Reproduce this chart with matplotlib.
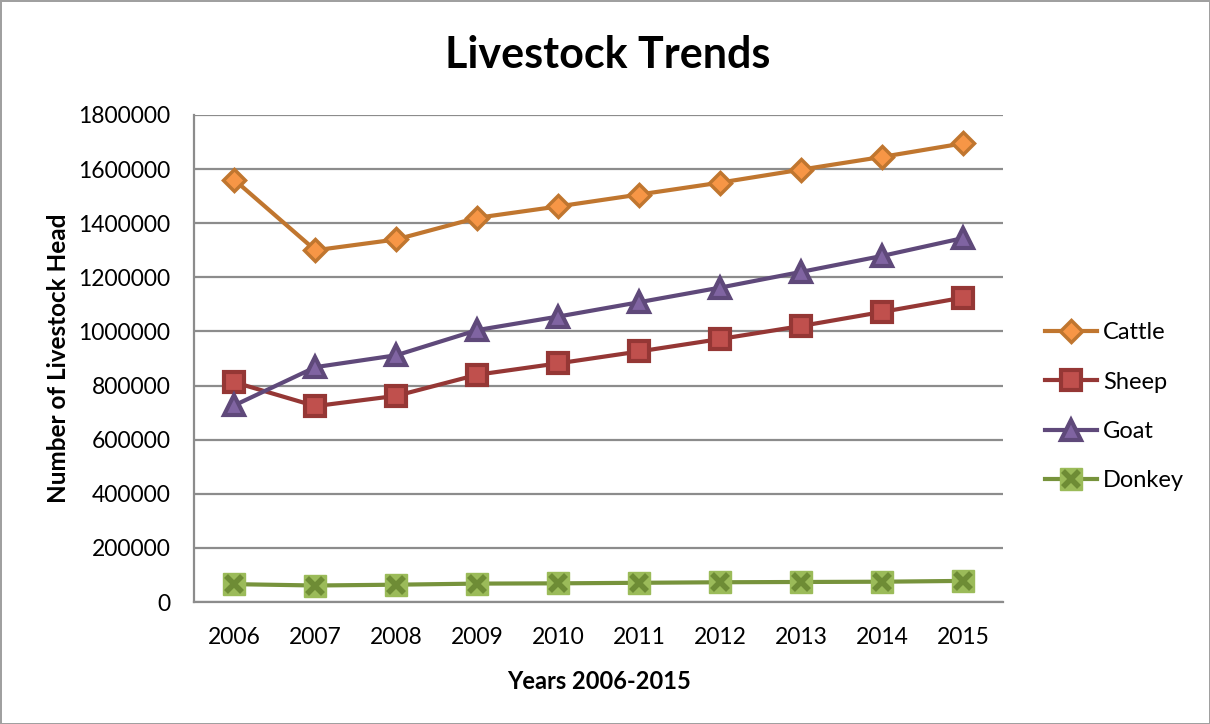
import matplotlib
matplotlib.use("Agg")
from matplotlib import pyplot as plt
from matplotlib.legend_handler import HandlerTuple

# =============================================================================
# Data

years = [2006, 2007, 2008, 2009, 2010, 2011, 2012, 2013, 2014, 2015]

cattle = [1560000, 1300000, 1340000, 1420000, 1462000,
          1506000, 1550000, 1598000, 1645000, 1695000]
sheep = [812000, 724000, 762000, 840000, 882000,
         926000, 972000, 1020000, 1072000, 1125000]
goat = [727000, 868000, 912000, 1005000, 1055000,
        1108000, 1162000, 1220000, 1279000, 1345000]
donkey = [66000, 61000, 64000, 68000, 69000,
          71000, 73000, 74000, 75000, 78000]

y_ticks = [0, 200000, 400000, 600000, 800000,
           1000000, 1200000, 1400000, 1600000, 1800000]

# =============================================================================
# Figure

plt.rcParams["font.family"] = ["Lato", "DejaVu Sans"]

fig = plt.figure(figsize=(12.1, 7.24), dpi=100)
fig.patch.set_edgecolor("#a0a0a0")
fig.patch.set_linewidth(2)

ax = fig.add_axes([0.1603, 0.1685, 0.669, 0.6727])

x = list(range(len(years)))
lw = 3.0

h_cattle, = ax.plot(x, cattle, color="#C0762F", lw=lw, marker="D", ms=11,
                    mfc="#F79646", mec="#C0762F", mew=2.5, label="Cattle")
h_sheep, = ax.plot(x, sheep, color="#953735", lw=lw, marker="s", ms=14,
                   mfc="#C0504D", mec="#953735", mew=3, label="Sheep")
h_goat, = ax.plot(x, goat, color="#5F497A", lw=lw, marker="^", ms=14,
                  mfc="#8064A2", mec="#5F497A", mew=3, label="Goat")
h_donkey, = ax.plot(x, donkey, color="#77933C", lw=lw, marker="s", ms=16,
                    mfc="#9BBB59", mec="#9BBB59", mew=1)
h_donkey_x, = ax.plot(x, donkey, ls="none", marker="x", ms=11,
                      mec="#6E8C35", mew=4)

ax.set_xlim(-0.5, len(years) - 0.5)
ax.set_ylim(0, 1800000)
ax.set_yticks(y_ticks)
ax.set_yticklabels([str(v) for v in y_ticks])
ax.set_xticks(x)
ax.set_xticklabels([str(y) for y in years])
ax.tick_params(length=0, labelsize=16.5)
ax.tick_params(axis="x", pad=18)
ax.tick_params(axis="y", pad=17)

ax.grid(axis="y", color="#8c8c8c", lw=1.6)
ax.set_axisbelow(True)
for side in ["top", "right"]:
    ax.spines[side].set_visible(False)
for side in ["left", "bottom"]:
    ax.spines[side].set_color("#8c8c8c")
    ax.spines[side].set_linewidth(1.6)

ax.set_xlabel("Years 2006-2015", fontsize=17, fontweight="bold", labelpad=16)
ax.set_ylabel("Number of Livestock Head", fontsize=17.5, fontweight="bold",
              labelpad=6)

fig.text(0.5025, 0.924, "Livestock Trends", ha="center", va="center",
         fontsize=31, fontweight="bold")

fig.legend([h_cattle, h_sheep, h_goat, (h_donkey, h_donkey_x)],
           ["Cattle", "Sheep", "Goat", "Donkey"],
           handler_map={tuple: HandlerTuple(ndivide=1)},
           loc="center left", bbox_to_anchor=(0.846, 0.438),
           frameon=False, fontsize=17, handlelength=2.2,
           labelspacing=1.2, handletextpad=0.25)

fig.savefig("out.png", dpi=100)
